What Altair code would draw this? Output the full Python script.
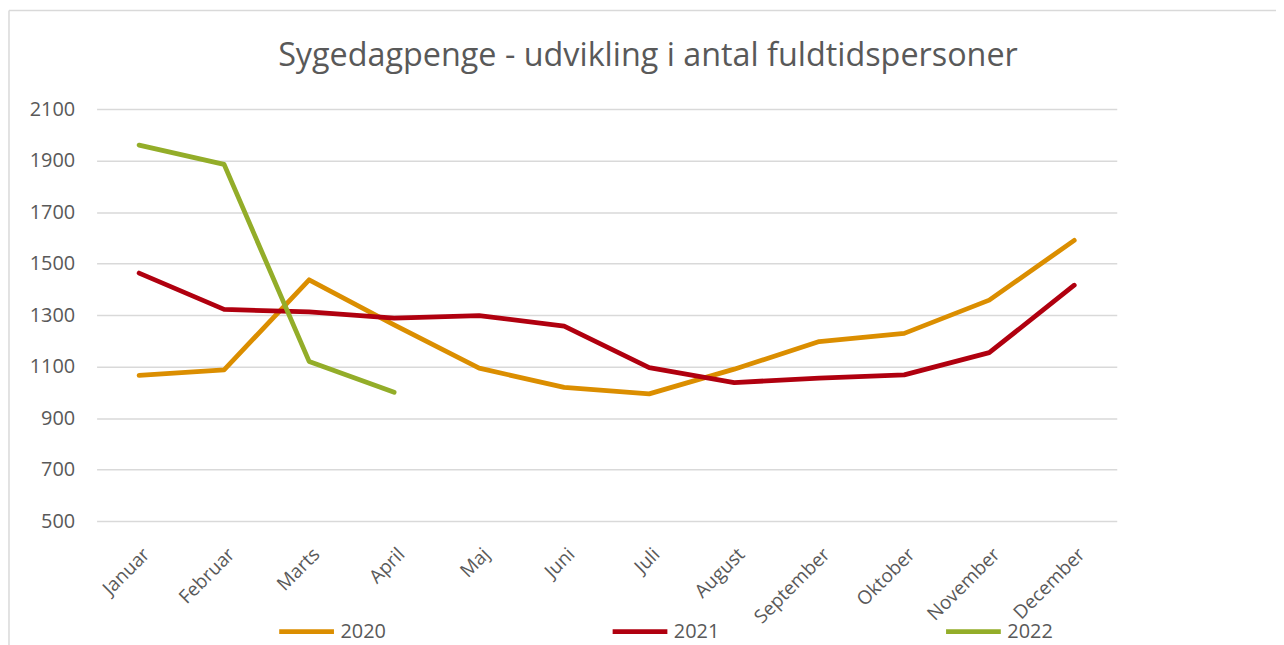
import altair as alt
import pandas as pd

months = ["Januar", "Februar", "Marts", "April", "Maj", "Juni", "Juli",
          "August", "September", "Oktober", "November", "December"]
v2020 = [1066, 1087, 1437, 1262, 1094, 1019, 994, 1090, 1197, 1229, 1358, 1590]
v2021 = [1463, 1322, 1312, 1288, 1298, 1257, 1096, 1038, 1055, 1068, 1154, 1416]
v2022 = [1960, 1885, 1120, 1000]
years = ["2020", "2021", "2022"]
colors = ["#DB8E00", "#B0000F", "#93AD29"]
y_ticks = [500, 700, 900, 1100, 1300, 1500, 1700, 1900, 2100]
title_text = ["Sygedagpenge - udvikling i antal fuldtidspersoner"]

rows = []
for yr, vals in zip(years, [v2020, v2021, v2022]):
    for m, v in zip(months, vals):
        rows.append({"Måned": m, "År": yr, "Antal": v})
df = pd.DataFrame(rows)
one = pd.DataFrame({"t": title_text})

FONT = "Open Sans"
GREY = "#595959"

lines = alt.Chart(df).mark_line(strokeWidth=4.8, strokeCap="round", strokeJoin="round").encode(
    x=alt.X("Måned:O", sort=months, scale=alt.Scale(padding=0.5),
            axis=alt.Axis(title=None, labelAngle=-45, labelAlign="right", labelBaseline="middle",
                          labelPadding=30, labelOffset=7, ticks=False, domain=False, grid=False,
                          labelFontSize=19, labelColor=GREY, labelFont=FONT)),
    y=alt.Y("Antal:Q", scale=alt.Scale(domain=[500, 2100], nice=False, zero=False),
            axis=alt.Axis(title=None, values=y_ticks, format="d", ticks=False, domain=False, grid=True,
                          gridColor="#D9D9D9", gridWidth=1.5, labelPadding=22,
                          labelFontSize=20, labelColor=GREY, labelFont=FONT)),
    color=alt.Color("År:N", scale=alt.Scale(domain=years, range=colors),
                    legend=alt.Legend(title=None, orient="none", direction="horizontal",
                                      legendX=181, legendY=495, columnPadding=217,
                                      symbolType="stroke", symbolSize=3025, symbolStrokeWidth=4.8,
                                      labelFontSize=20, labelColor=GREY, labelFont=FONT,
                                      labelOffset=4)),
)

title = alt.Chart(one).mark_text(fontSize=32.5, font=FONT, color=GREY, align="center",
                                 baseline="alphabetic").encode(
    text="t:N", x=alt.value(554), y=alt.value(-43))

border_left = alt.Chart(one).mark_rule(color="#D9D9D9", strokeWidth=1.5).encode(
    x=alt.value(-88), y=alt.value(-99), y2=alt.value(600))
border_top = alt.Chart(one).mark_rule(color="#D9D9D9", strokeWidth=1.5).encode(
    y=alt.value(-99), x=alt.value(-88), x2=alt.value(1300))

chart = alt.layer(border_left, border_top, title, lines).properties(
    width=1025, height=414,
    autosize=alt.AutoSizeParams(type="none"),
    padding={"left": 89, "top": 100, "right": 160, "bottom": 130},
).configure_view(stroke=None)

chart.save("out.html", embed_options={"renderer": "svg", "actions": False})
